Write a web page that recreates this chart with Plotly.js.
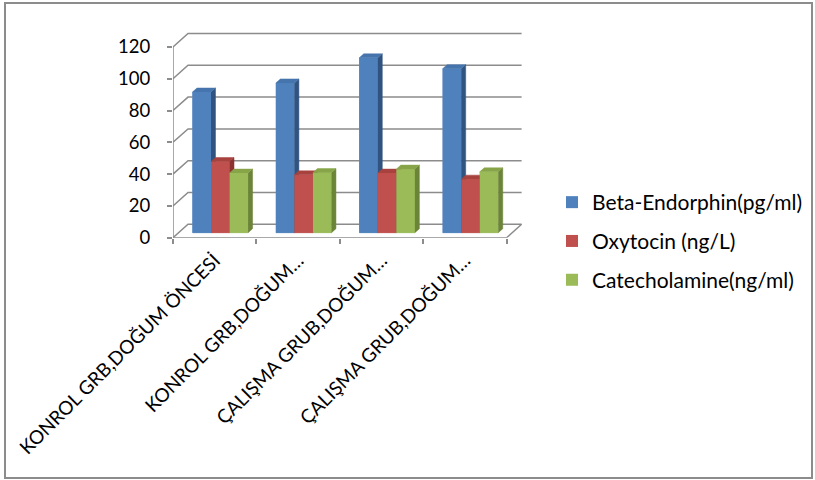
<!DOCTYPE html>
<html>
<head>
<meta charset="utf-8">
<script src="https://cdn.plot.ly/plotly-3.0.1.min.js"></script>
<style>html,body{margin:0;padding:0;background:#fff;}#chart{width:815px;height:480px;}</style>
</head>
<body>
<div id="chart"></div>
<script>
// ---- data ----
const categories = ['KONROL GRB,DOĞUM ÖNCESİ', 'KONROL GRB,DOĞUM…', 'ÇALIŞMA GRUB,DOĞUM…', 'ÇALIŞMA GRUB,DOĞUM…'];
const betaEndorphin = [88.5, 94.2, 110, 103.2];
const oxytocin = [44.8, 36.4, 37.5, 33.7];
const catecholamine = [37.5, 37.8, 40, 38.3];
const seriesNames = ['Beta-Endorphin(pg/ml)', 'Oxytocin (ng/L)', 'Catecholamine(ng/ml)'];
const yTicks = [0, 20, 40, 60, 80, 100, 120];

// ---- style ----
const FONT = 'Lato, "Open Sans", sans-serif';
const GRID = '#8c8c8c';
const faceColors = [
  {front: '#4F81BD', side: '#30537F', top: '#4674AC'},
  {front: '#C0504D', side: '#8C3331', top: '#A8423F'},
  {front: '#9BBB59', side: '#6B8438', top: '#87A548'}
];
const KX = 0.18, KY = 8.43;      // oblique depth offset of the back wall (axis units)
const Z0 = 0.37, Z1 = 0.67;      // bar depth span
const GROUPW = 0.6667, BW = GROUPW / 3;

const P = (x, y, z) => [x + z * KX, y + z * KY];
const series = [betaEndorphin, oxytocin, catecholamine];
const idx = categories.map((_, i) => i);
const xMin = -0.5, xMax = categories.length - 0.5;

// grid / wall lines
const gx = [], gy = [];
function seg(pts) { pts.forEach(p => { gx.push(p[0]); gy.push(p[1]); }); gx.push(null); gy.push(null); }
yTicks.forEach(t => seg([P(xMin, t, 0), P(xMin, t, 1), P(xMax, t, 1)]));
seg([P(xMin, 0, 0), P(xMax, 0, 0), P(xMax, 0, 1)]);
seg([P(xMin, 0, 0), P(xMin, yTicks[yTicks.length - 1], 0)]);

const traces = [];
// native bars (legend + hover), positioned on the bar's front plane
series.forEach((vals, k) => {
  traces.push({
    type: 'bar', x: idx, y: vals, base: Z0 * KY,
    offset: -GROUPW / 2 + k * BW + Z0 * KX, width: BW,
    name: seriesNames[k], legendgroup: 'g' + k,
    marker: {color: faceColors[k].front, line: {width: 0}},
    customdata: vals, hovertemplate: '%{customdata}<extra>' + seriesNames[k] + '</extra>'
  });
});
traces.push({type: 'scatter', mode: 'lines', x: gx, y: gy, line: {color: GRID, width: 1.5},
  hoverinfo: 'skip', showlegend: false});

function poly(list, color, k) {
  const xs = [], ys = [];
  list.forEach(pts => { pts.forEach(p => { xs.push(p[0]); ys.push(p[1]); }); xs.push(null); ys.push(null); });
  traces.push({type: 'scatter', mode: 'lines', x: xs, y: ys, fill: 'toself', fillcolor: color,
    line: {color: color, width: 0.5}, hoverinfo: 'skip', showlegend: false, legendgroup: 'g' + k});
}
series.forEach((vals, k) => {
  const fronts = [], sides = [], tops = [];
  vals.forEach((v, i) => {
    const x0 = i - GROUPW / 2 + k * BW, x1 = x0 + BW;
    fronts.push([P(x0, 0, Z0), P(x1, 0, Z0), P(x1, v, Z0), P(x0, v, Z0)]);
    sides.push([P(x1, 0, Z0), P(x1, 0, Z1), P(x1, v, Z1), P(x1, v, Z0)]);
    tops.push([P(x0, v, Z0), P(x0, v, Z1), P(x1, v, Z1), P(x1, v, Z0)]);
  });
  poly(fronts, faceColors[k].front, k);
  poly(sides, faceColors[k].side, k);
  poly(tops, faceColors[k].top, k);
});

const pxL = 173, pxPerCat = 83.4, pxBottom = 237.7, pxPerUnit = 1.59;
const yMaxR = 130, xMaxR = xMax + 0.2;
const layout = {
  width: 815, height: 480, margin: {l: 0, r: 0, t: 0, b: 0},
  paper_bgcolor: '#fff', plot_bgcolor: 'rgba(0,0,0,0)',
  barmode: 'overlay', hovermode: 'closest',
  font: {family: FONT, color: '#000'},
  xaxis: {
    range: [xMin, xMaxR], domain: [pxL / 815, (pxL + (xMaxR - xMin) * pxPerCat) / 815],
    tickmode: 'array', tickvals: idx, ticktext: categories, tickangle: -45,
    ticks: '', showgrid: false, zeroline: false, showline: false, ticklabelstandoff: 7,
    tickfont: {family: FONT, size: 19, color: '#000'}, anchor: 'y', fixedrange: true
  },
  xaxis2: {
    overlaying: 'x', anchor: 'y', range: [xMin, xMaxR], showgrid: false, zeroline: false,
    tickmode: 'array', tickvals: idx.map(i => i - 0.5).concat([xMax]), showticklabels: false,
    ticks: 'outside', ticklen: 5, tickwidth: 1.5, tickcolor: GRID, showline: false, fixedrange: true
  },
  yaxis: {
    range: [0, yMaxR], domain: [(480 - pxBottom) / 480, (480 - (pxBottom - yMaxR * pxPerUnit)) / 480],
    tickmode: 'array', tickvals: yTicks, ticks: 'outside', ticklen: 5, tickwidth: 1.5, tickcolor: GRID,
    showgrid: false, zeroline: false, showline: false, ticklabelstandoff: 13,
    tickfont: {family: FONT, size: 18.5, color: '#000'}, fixedrange: true
  },
  legend: {
    x: 552 / 815, xanchor: 'left', y: (480 - 182) / 480, yanchor: 'top',
    font: {family: FONT, size: 21, color: '#000'}, bgcolor: 'rgba(0,0,0,0)',
    traceorder: 'grouped', tracegroupgap: 8.5
  },
  shapes: [{type: 'rect', xref: 'paper', yref: 'paper', x0: 5 / 815, x1: 812 / 815, y0: 2 / 480, y1: 477 / 480,
    line: {color: GRID, width: 2}, layer: 'below'}]
};
traces.push({type: 'scatter', x: [], y: [], xaxis: 'x2', showlegend: false, hoverinfo: 'skip'});
Plotly.newPlot('chart', traces, layout, {displayModeBar: false, responsive: false});
</script>
</body>
</html>
